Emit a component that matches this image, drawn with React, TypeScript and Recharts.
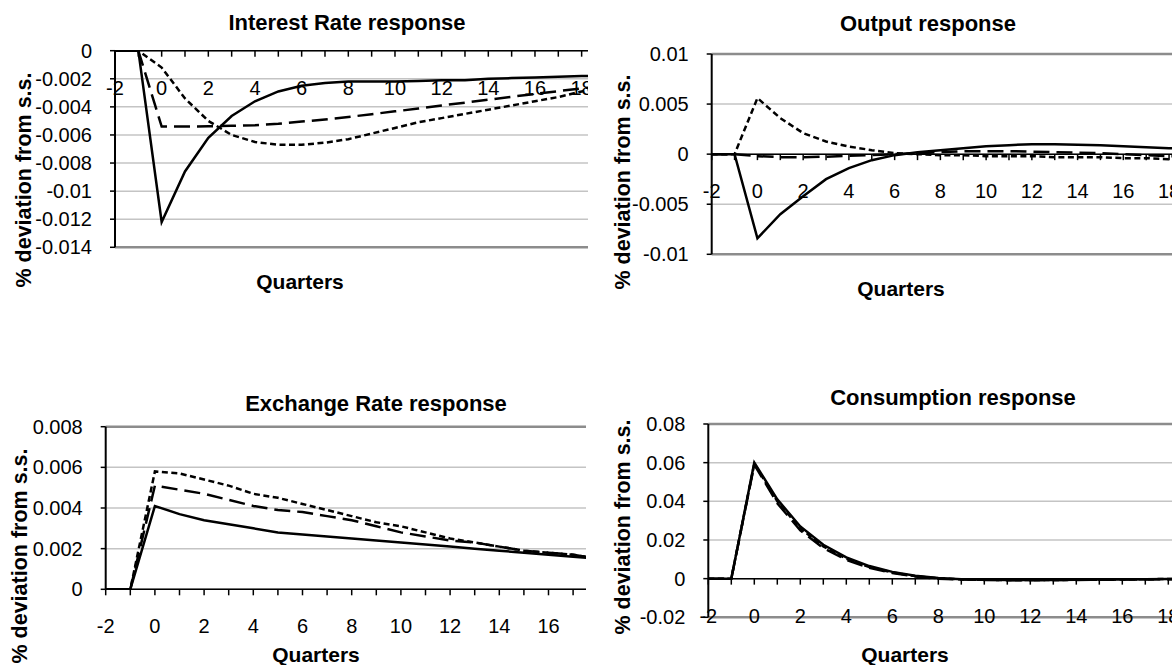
import React from 'react';
import { LineChart, Line, XAxis, YAxis, CartesianGrid, ReferenceLine, ReferenceDot } from 'recharts';

const FONT = "'Liberation Sans', Arial, Helvetica, sans-serif";

// ---- data ----
const quarters = [-2, -1, 0, 1, 2, 3, 4, 5, 6, 7, 8, 9, 10, 11, 12, 13, 14, 15, 16, 17, 18, 19];
const xTickMarks = [-2, -1, 0, 1, 2, 3, 4, 5, 6, 7, 8, 9, 10, 11, 12, 13, 14, 15, 16, 17, 18, 19, 20];
const xTickLabels = [-2, 0, 2, 4, 6, 8, 10, 12, 14, 16, 18];

const irSolid = [0, 0, -0.0122, -0.0086, -0.0062, -0.00465, -0.0036, -0.0029, -0.0025, -0.0023, -0.0022, -0.0022, -0.0022, -0.00215, -0.0021, -0.0021, -0.002, -0.00195, -0.0019, -0.00185, -0.0018, -0.0018];
const irDashed = [0, 0, -0.0054, -0.0054, -0.00538, -0.00535, -0.0053, -0.0052, -0.00505, -0.0049, -0.00472, -0.00452, -0.00432, -0.00412, -0.0039, -0.0037, -0.00349, -0.00328, -0.00308, -0.00288, -0.00268, -0.0025];
const irDotted = [0, 0, -0.0012, -0.0034, -0.005, -0.006, -0.0065, -0.0067, -0.0067, -0.00655, -0.0063, -0.0059, -0.0055, -0.0051, -0.0048, -0.0045, -0.0042, -0.0039, -0.0036, -0.0033, -0.0029, -0.0026];
const irTicks = [0, -0.002, -0.004, -0.006, -0.008, -0.01, -0.012, -0.014];

const outSolid = [0, 0, -0.0084, -0.006, -0.0042, -0.0025, -0.0014, -0.0006, -0.0001, 0.0002, 0.0004, 0.0006, 0.0008, 0.0009, 0.001, 0.001, 0.00095, 0.0009, 0.0008, 0.0007, 0.0006, 0.0005];
const outDashed = [0, 0, -0.0002, -0.0003, -0.0003, -0.00025, -0.00015, -0.0001, 0, 0.0001, 0.0002, 0.0003, 0.0003, 0.0003, 0.00025, 0.0002, 0.00015, 0.0001, 0, -0.0001, -0.0002, -0.0002];
const outDotted = [0, 0, 0.0056, 0.0036, 0.0021, 0.00126, 0.00076, 0.0004, 0.0001, 0, -0.0001, -0.0001, -0.0002, -0.0002, -0.0002, -0.0003, -0.0003, -0.0003, -0.0004, -0.0004, -0.0005, -0.0005];
const outTicks = [0.01, 0.005, 0, -0.005, -0.01];

const exSolid = [0, 0, 0.0041, 0.0037, 0.0034, 0.0032, 0.003, 0.0028, 0.0027, 0.0026, 0.0025, 0.0024, 0.0023, 0.0022, 0.0021, 0.002, 0.0019, 0.0018, 0.0017, 0.0016, 0.0015, 0.0014];
const exDashed = [0, 0, 0.0051, 0.0049, 0.0047, 0.0044, 0.0041, 0.0039, 0.0038, 0.0036, 0.0034, 0.0031, 0.0028, 0.0026, 0.0024, 0.0023, 0.0021, 0.0019, 0.0018, 0.0017, 0.0015, 0.0014];
const exDotted = [0, 0, 0.0058, 0.0057, 0.0054, 0.0051, 0.0047, 0.0045, 0.0042, 0.0039, 0.0036, 0.0033, 0.0031, 0.0028, 0.0025, 0.0023, 0.0021, 0.0019, 0.0018, 0.0017, 0.0015, 0.0014];
const exTicks = [0, 0.002, 0.004, 0.006, 0.008];

const coSolid = [0, 0, 0.06, 0.041, 0.027, 0.0175, 0.011, 0.0065, 0.0035, 0.0015, 0.0003, -0.0003, -0.0006, -0.0007, -0.0007, -0.0007, -0.0006, -0.0005, -0.0004, -0.0003, -0.0002, -0.0002];
const coDashed = [0, 0, 0.059, 0.039, 0.025, 0.0158, 0.0097, 0.0056, 0.0029, 0.0011, 0, -0.0005, -0.0007, -0.0008, -0.0008, -0.0007, -0.0007, -0.0006, -0.0005, -0.0004, -0.0003, -0.0003];
const coDotted = [0, 0, 0.0595, 0.04, 0.026, 0.0167, 0.0103, 0.006, 0.0032, 0.0013, 0.0002, -0.0004, -0.0006, -0.0007, -0.0007, -0.0007, -0.0006, -0.0005, -0.0004, -0.0003, -0.0002, -0.0002];
const coTicks = [-0.02, 0, 0.02, 0.04, 0.06, 0.08];

const buildRows = (s: number[], d: number[], t: number[]) =>
  quarters.map((q, i) => ({ q, solid: s[i], dashed: d[i], dotted: t[i] }));

const fmt = (v: number) => {
  const n = parseFloat(Number(v).toFixed(4));
  return n === 0 ? '0' : String(n);
};

type PanelProps = {
  rows: any[];
  yTicks: number[];
  labelMax: number;
  title: string;
  left: number; top: number; clipW: number; clipH: number;
  chartW: number; chartH: number;
  margin: { top: number; right: number; bottom: number; left: number };
  titleX: number; titleY: number;
  qX: number; qY: number;
  yTitleX: number; yTitleY: number;
};

const XTickShape = (v: number, label: boolean) => (p: any) => (
  <g>
    <line x1={p.cx} y1={p.cy} x2={p.cx} y2={p.cy + 6} stroke="#000" strokeWidth={1.5} />
    {label ? (
      <text x={p.cx} y={p.cy + 44} textAnchor="middle" fontSize={20} fontFamily={FONT} fill="#000">
        {v}
      </text>
    ) : null}
  </g>
);

function Panel(props: PanelProps) {
  const { rows, yTicks, margin } = props;
  const yMin = Math.min(...yTicks);
  const yMax = Math.max(...yTicks);
  return (
    <div style={{ position: 'absolute', left: props.left, top: props.top, width: props.clipW, height: props.clipH, overflow: 'hidden' }}>
      <div style={{ position: 'absolute', left: 0, top: 0 }}>
        <LineChart width={props.chartW} height={props.chartH} data={rows} margin={margin}>
          <CartesianGrid horizontal vertical={false} stroke="#c4c4c4" strokeWidth={1.5} />
          <XAxis dataKey="q" type="number" domain={[-2, 20]} hide allowDataOverflow />
          <YAxis
            type="number"
            domain={[yMin, yMax]}
            ticks={yTicks}
            interval={0}
            allowDataOverflow
            width={100}
            tickFormatter={fmt}
            axisLine={{ stroke: '#000', strokeWidth: 2 }}
            tickLine={{ stroke: '#000', strokeWidth: 1.5 }}
            tickSize={5}
            tickMargin={18}
            tick={{ fontSize: 20, fill: '#000', fontFamily: FONT }}
          />
          {yMax !== 0 ? <ReferenceLine y={yMax} stroke="#8c8c8c" strokeWidth={2.5} /> : null}
          {yMin !== 0 ? <ReferenceLine y={yMin} stroke="#8c8c8c" strokeWidth={2.5} /> : null}
          <ReferenceLine y={0} stroke="#000" strokeWidth={1.5} />
          <Line type="linear" dataKey="dotted" stroke="#000" strokeWidth={2.5} strokeDasharray="6 3.5" dot={false} isAnimationActive={false} />
          <Line type="linear" dataKey="dashed" stroke="#000" strokeWidth={2.5} strokeDasharray="16 7" dot={false} isAnimationActive={false} />
          <Line type="linear" dataKey="solid" stroke="#000" strokeWidth={2.5} dot={false} isAnimationActive={false} />
          {xTickMarks.map((v) => (
            <ReferenceDot
              key={v}
              x={v}
              y={0}
              r={1}
              shape={XTickShape(v, xTickLabels.includes(v) && v <= props.labelMax)}
            />
          ))}
        </LineChart>
      </div>
      <svg width={props.clipW} height={props.clipH} style={{ position: 'absolute', left: 0, top: 0, pointerEvents: 'none' }}>
        <text x={props.titleX} y={props.titleY} textAnchor="middle" fontSize={22} fontWeight="bold" fontFamily={FONT} fill="#000">
          {props.title}
        </text>
        <text x={props.qX} y={props.qY} textAnchor="middle" fontSize={21} fontWeight="bold" fontFamily={FONT} fill="#000">
          Quarters
        </text>
        <text
          transform={`translate(${props.yTitleX},${props.yTitleY}) rotate(-90)`}
          textAnchor="middle"
          fontSize={21.5}
          fontWeight="bold"
          fontFamily={FONT}
          fill="#000"
        >
          % deviation from s.s.
        </text>
      </svg>
    </div>
  );
}

export default function App() {
  return (
    <div style={{ position: 'absolute', left: 0, top: 0, width: 1172, height: 665, background: '#fff', overflow: 'hidden' }}>
      <Panel
        rows={buildRows(irSolid, irDashed, irDotted)}
        yTicks={irTicks}
        labelMax={18}
        title="Interest Rate response"
        left={0} top={0} clipW={588} clipH={300}
        chartW={640} chartH={260}
        margin={{ top: 50.7, right: 11.7, bottom: 12.7, left: 15 }}
        titleX={347} titleY={30}
        qX={300} qY={289}
        yTitleX={31} yTitleY={180}
      />
      <Panel
        rows={buildRows(outSolid, outDashed, outDotted)}
        yTicks={outTicks}
        labelMax={18}
        title="Output response"
        left={592} top={0} clipW={580} clipH={300}
        chartW={635} chartH={270}
        margin={{ top: 54, right: 12.2, bottom: 15.7, left: 19.7 }}
        titleX={336} titleY={31}
        qX={309} qY={296}
        yTitleX={38} yTitleY={182}
      />
      <Panel
        rows={buildRows(exSolid, exDashed, exDotted)}
        yTicks={exTicks}
        labelMax={16}
        title="Exchange Rate response"
        left={0} top={380} clipW={586} clipH={285}
        chartW={660} chartH={285}
        margin={{ top: 46.7, right: 13.1, bottom: 75.7, left: 5.7 }}
        titleX={376} titleY={31}
        qX={316} qY={282}
        yTitleX={27} yTitleY={176}
      />
      <Panel
        rows={buildRows(coSolid, coDashed, coDotted)}
        yTicks={coTicks}
        labelMax={18}
        title="Consumption response"
        left={592} top={380} clipW={580} clipH={285}
        chartW={635} chartH={285}
        margin={{ top: 44, right: 12.7, bottom: 47.7, left: 16.3 }}
        titleX={361} titleY={25}
        qX={313} qY={282}
        yTitleX={38} yTitleY={147}
      />
    </div>
  );
}
